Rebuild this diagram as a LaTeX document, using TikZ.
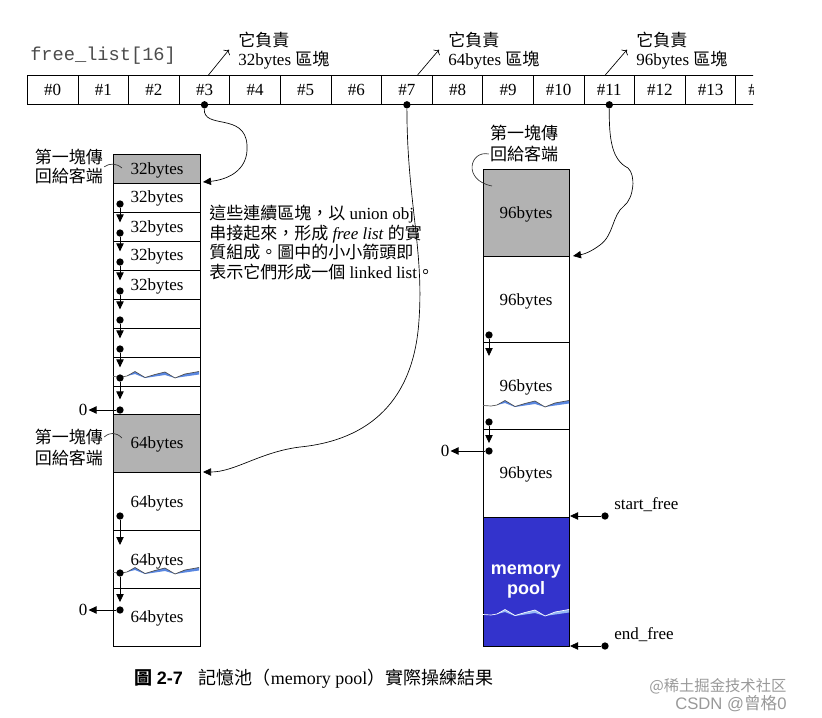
\documentclass[tikz,border=0pt]{standalone}
\usepackage{fontspec}
\setmainfont{Liberation Serif}
\setsansfont{Liberation Sans}
\setmonofont{Liberation Mono}
\newfontfamily\cjkfont{Noto Sans CJK TC}
\usetikzlibrary{arrows.meta}
\definecolor{blockgray}{RGB}{178,178,178}
\definecolor{poolblue}{RGB}{51,51,204}
\definecolor{wavebl}{RGB}{90,135,225}
\definecolor{wavelt}{RGB}{150,185,245}

\begin{document}
\begin{tikzpicture}[x=0.75pt,y=0.75pt,yscale=-1,xscale=1,
  font=\fontsize{12.75}{14.6}\selectfont,
  every node/.style={inner sep=0.75pt},
  cell/.style={draw, line width=0.6pt, minimum width=37.95pt, minimum height=21.75pt, inner sep=0pt, anchor=north west},
  dot/.style={circle, fill, inner sep=0pt, minimum size=5.5pt},
  link/.style={-{Triangle[length=6pt,width=5.5pt]}, line width=0.6pt},
  pointer/.style={-{To[length=3pt]}, line width=0.5pt},
  hook/.style={line width=0.5pt, black!80},
  block/.style={line width=0.6pt}]
\useasboundingbox (0,0) rectangle (822,718);

%free_list array
\node[anchor=west, font=\ttfamily\fontsize{14}{16}\selectfont, text=black!70] (fl) at (29,56) {free\_list[16]};
\begin{scope}
\clip (0,0) rectangle (753,718);
\foreach \i in {0,...,14}
  \node[cell] (c\i) at ({27+50.6*\i},75) {\#\i};
\end{scope}
\node[dot] (d3) at (c3.south) {};
\node[dot] (d7) at (c7.south) {};
\node[dot] (d11) at (c11.south) {};

% Text Node
\node[anchor=west] (r1a) at (237,40) {\cjkfont 它負責};
\node[anchor=west] (r1b) at (237,60) {32bytes {\cjkfont 區塊}};
\node[anchor=west] (r2a) at (447,40) {\cjkfont 它負責};
\node[anchor=west] (r2b) at (447,60) {64bytes {\cjkfont 區塊}};
\node[anchor=west] (r3a) at (635,40) {\cjkfont 它負責};
\node[anchor=west] (r3b) at (635,60) {96bytes {\cjkfont 區塊}};
\draw[pointer] ([xshift=3pt]c3.north) -- ([xshift=-6pt]r1b.north west);
\draw[pointer] ([xshift=8pt]c7.north) -- ([xshift=-6pt]r2b.north west);
\draw[pointer] ([xshift=-3pt]c11.north) -- ([xshift=-6pt]r3b.north west);

%32bytes chain
\fill[blockgray] (113,154) rectangle (200,183);
\draw[block] (113,154) rectangle (200,414);
\foreach \y in {183,212,241,270,299,328,357,386}
  \draw[block] (113,\y) -- (200,\y);
\foreach \y [count=\i] in {170,198,228,256,286}
  \node (s\i) at (157,\y) {32bytes};

%64bytes chain
\fill[blockgray] (113,414) rectangle (200,472);
\draw[block] (113,414) rectangle (200,646);
\foreach \y in {472,530,588}
  \draw[block] (113,\y) -- (200,\y);
\node (m1) at (157,444) {64bytes};
\node (m2) at (157,503) {64bytes};
\node (m3) at (157,561) {64bytes};
\node (m4) at (157,618) {64bytes};

%96bytes chain and memory pool
\fill[blockgray] (483,169) rectangle (569,256);
\fill[poolblue] (483,517) rectangle (569,646);
\draw[block] (483,169) rectangle (569,646);
\foreach \y in {256,342,429,517}
  \draw[block] (483,\y) -- (569,\y);
\node (n1) at (526,214) {96bytes};
\node (n2) at (526,301) {96bytes};
\node (n3) at (526,387) {96bytes};
\node (n4) at (526,474) {96bytes};
\node[font=\sffamily\bfseries\fontsize{13.5}{15}\selectfont, text=white, align=center] (mp) at (526,582) {memory\\pool};

%torn edges
\foreach \x/\y/\ln/\fl in {113/375/black!70/wavebl, 113/571/black!70/wavebl, 483/404/black!70/wavebl, 483/613/white/wavelt}{
  \begin{scope}[shift={(\x,\y)}]
    \fill[\fl] (14,1) -- (22,-3.5) -- (32,2.5) -- (42,-0.5) -- (52,-3) -- (62,3) -- (72,-1) -- (86,-3.5) -- (86,-0.5) -- (72,1.5) -- (62,3) -- (52,0) -- (42,1.5) -- (32,3) -- (22,-1) -- cycle;
    \draw[line width=0.5pt, \ln] (0,1.5) -- (8,2) -- (14,1) -- (22,-3.5) -- (32,2.5) -- (42,-0.5) -- (52,-3) -- (62,3) -- (72,-1) -- (86,-3.5);
  \end{scope}}

%links inside the blocks
\foreach \y [count=\i] in {204,233,262,291,320,349,378,410}
  \node[dot] (a\i) at (120,\y) {};
\foreach \i in {1,...,7}{
  \pgfmathtruncatemacro\j{\i+1}
  \draw[link, shorten >=5pt] (a\i) -- (a\j);}
\node (z1) at (83,410) {0};
\draw[link] (a8) -- (z1);

\node[dot] (b1) at (120,516) {};
\node[dot] (b2) at (120,573) {};
\node[dot] (b3) at (120,610) {};
\coordinate (t4) at (120,545);
\draw[link] (b1) -- (t4);
\draw[link, shorten >=3pt] (b2) -- (b3);
\node (z2) at (83,610) {0};
\draw[link] (b3) -- (z2);

\node[dot] (g1) at (489,335) {};
\node[dot] (g2) at (489,422) {};
\node[dot] (g3) at (489,451) {};
\coordinate (t1) at (489,356);
\draw[link] (g1) -- (t1);
\draw[link, shorten >=3pt] (g2) -- (g3);
\node (z3) at (445,451) {0};
\draw[link] (g3) -- (z3);

%start_free / end_free
\node[anchor=west] (sfl) at (613,505) {start\_free};
\node[anchor=west] (efl) at (613,635) {end\_free};
\node[dot] (sf) at (605,516) {};
\node[dot] (ef) at (605,646) {};
\coordinate (sft) at (570,516);
\coordinate (eft) at (570,646);
\draw[link] (sf) -- (sft);
\draw[link] (ef) -- (eft);

%free_list pointers
\coordinate (e3) at (203,182);
\coordinate (e7) at (203,472);
\coordinate (e11) at (573,256);
\draw[link, line width=0.5pt] (d3) .. controls (203,130) and (245,112) .. (247,145) .. controls (249,172) and (225,180) .. (e3);
\draw[link, line width=0.5pt] (d7) .. controls (407,200) and (424,250) .. (419,320) .. controls (414,400) and (370,440) .. (300,447) .. controls (260,452) and (235,472) .. (e7);
\draw[link, line width=0.5pt] (d11) .. controls (609,140) and (612,160) .. (628,168) .. controls (636,175) and (634,198) .. (624,206) .. controls (612,215) and (614,235) .. (600,245) .. controls (592,251) and (585,254) .. (e11);

%first block labels
\node (f1a) at (69,157) {\cjkfont 第一塊傳};
\node (f1b) at (69,176) {\cjkfont 回給客端};
\coordinate (k1) at (122,168);
\draw[hook] (f1b.north east) .. controls (110,163) and (116,163) .. (k1);
\node (f2a) at (69,437) {\cjkfont 第一塊傳};
\node (f2b) at (69,458) {\cjkfont 回給客端};
\coordinate (k2) at (122,438);
\draw[hook] (f2a.east) .. controls (110,432) and (116,432) .. (k2);
\node (f3a) at (524,133) {\cjkfont 第一塊傳};
\node (f3b) at (524,154) {\cjkfont 回給客端};
\coordinate (k3) at (492,186);
\draw[hook] (f3b.west) .. controls (470,150) and (462,180) .. (k3);

% Text Node
\node[anchor=north west, align=left, inner sep=0pt] (note) at (209,205) {{\cjkfont 這些連續區塊，以} union obj\\{\cjkfont 串接起來，形成} \textit{free list} {\cjkfont 的實}\\{\cjkfont 質組成。圖中的小小箭頭即}\\{\cjkfont 表示它們形成一個} linked list{\cjkfont 。}};

% Text Node
\node[anchor=west, font=\fontsize{13.5}{15}\selectfont] (cap) at (133,679) {{\cjkfont\bfseries 圖} {\sffamily\bfseries 2-7}\hspace{12pt}{\cjkfont 記憶池（}memory pool{\cjkfont ）實際操練結果}};
\node[anchor=west, text=black!40, font=\fontsize{11.5}{13}\selectfont] (wm1) at (648,686) {\cjkfont @稀土掘金技术社区};
\node[anchor=west, text=black!40, font=\sffamily\fontsize{12.5}{14}\selectfont] (wm2) at (674,704) {CSDN @{\cjkfont 曾格}0};

\end{tikzpicture}
\end{document}
